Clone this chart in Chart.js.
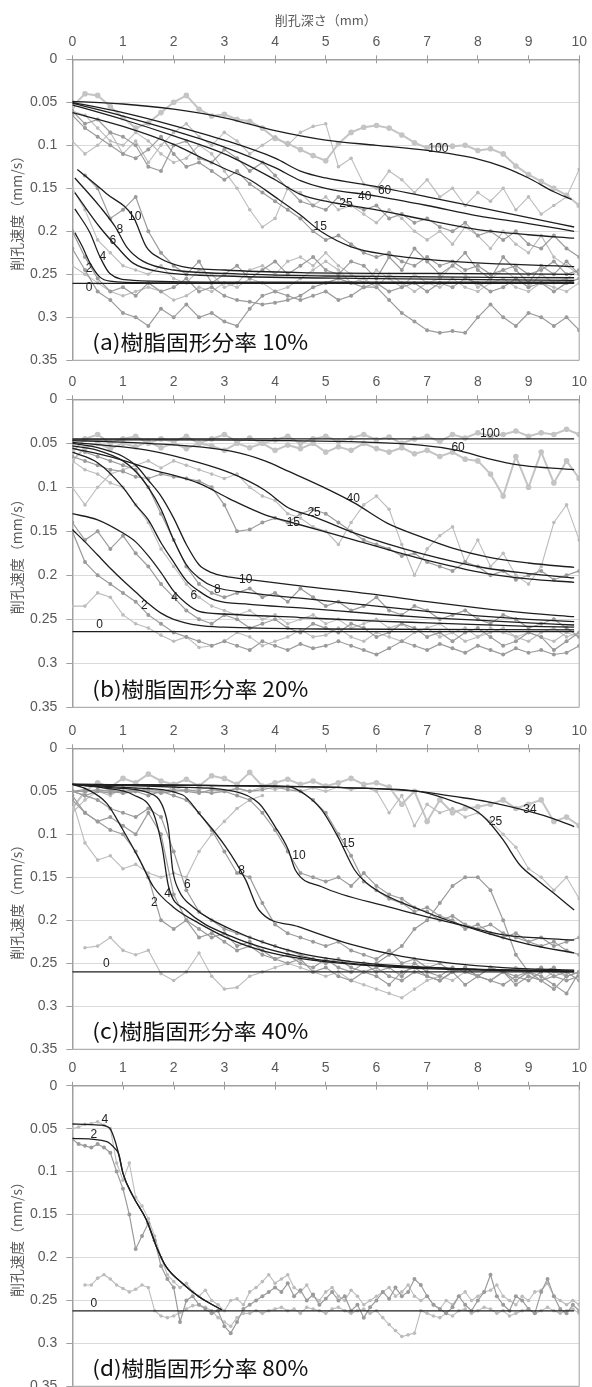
<!DOCTYPE html>
<html lang="ja">
<head>
<meta charset="utf-8">
<title>削孔速度と削孔深さ</title>
<script src="https://cdn.jsdelivr.net/npm/chart.js@4.4.1/dist/chart.umd.min.js"></script>
<style>
  html, body { margin: 0; padding: 0; background: #fff; overflow: hidden; }
  #wrap { position: relative; width: 592px; height: 1387px; overflow: hidden; }
  #wrap canvas { position: absolute; left: 0; }
</style>
</head>
<body>
<div id="wrap">
  <canvas id="chartA" width="592" height="379" style="top:0px"></canvas>
  <canvas id="chartB" width="592" height="354" style="top:372px"></canvas>
  <canvas id="chartC" width="592" height="351" style="top:717px"></canvas>
  <canvas id="chartD" width="592" height="348" style="top:1057px"></canvas>
</div>
<script>
// ---- data ----
const xTickLabels = ['0','1','2','3','4','5','6','7','8','9','10'];
const yTickLabels = ['0','0.05','0.1','0.15','0.2','0.25','0.3','0.35'];
const xTitle = '削孔深さ（mm）';
const yTitle = '削孔速度（mm/s）';
const captions = ['(a)樹脂固形分率 10%', '(b)樹脂固形分率 20%', '(c)樹脂固形分率 40%', '(d)樹脂固形分率 80%'];

const depthMm = [0,0.25,0.5,0.75,1,1.25,1.5,1.75,2,2.25,2.5,2.75,3,3.25,3.5,3.75,4,4.25,4.5,4.75,5,5.25,5.5,5.75,6,6.25,6.5,6.75,7,7.25,7.5,7.75,8,8.25,8.5,8.75,9,9.25,9.5,9.75,10];
const depthMmD = [0,0.125,0.25,0.375,0.5,0.625,0.75,0.875,1,1.125,1.25,1.375,1.5,1.625,1.75,1.875,2,2.125,2.25,2.375,2.5,2.625,2.75,2.875,3,3.125,3.25,3.375,3.5,3.625,3.75,3.875,4,4.125,4.25,4.375,4.5,4.625,4.75,4.875,5,5.125,5.25,5.375,5.5,5.625,5.75,5.875,6,6.125,6.25,6.375,6.5,6.625,6.75,6.875,7,7.125,7.25,7.375,7.5,7.625,7.75,7.875,8,8.125,8.25,8.375,8.5,8.625,8.75,8.875,9,9.125,9.25,9.375,9.5,9.625,9.75,9.875,10];

// (a) measured
const measA100 = [0.055,0.040,0.042,0.055, 0.068,0.080,0.074,0.062, 0.050,0.042,0.058,0.066, 0.064,0.070,0.072,0.080, 0.092,0.098,0.105,0.112, 0.118,0.098,0.085,0.079, 0.077,0.080,0.088,0.097, 0.103,0.100,0.101,0.100, 0.106,0.104,0.110,0.124, 0.134,0.142,0.150,0.158, 0.170];
const measA60 = [0.095,0.110,0.100,0.085, 0.110,0.095,0.120,0.100, 0.085,0.075,0.090,0.100, 0.085,0.095,0.110,0.100, 0.090,0.100,0.085,0.078, 0.075,0.125,0.115,0.145, 0.150,0.130,0.140,0.155, 0.140,0.160,0.150,0.170, 0.155,0.165,0.150,0.175, 0.160,0.180,0.170,0.160, 0.128];
const measA40 = [0.060,0.075,0.070,0.085, 0.090,0.100,0.125,0.130, 0.100,0.095,0.115,0.120, 0.105,0.115,0.130,0.120, 0.135,0.150,0.165,0.170, 0.175,0.160,0.170,0.175, 0.170,0.185,0.180,0.190, 0.185,0.195,0.200,0.190, 0.205,0.200,0.210,0.200, 0.215,0.220,0.205,0.220, 0.230];
const measA25 = [0.060,0.065,0.080,0.095, 0.100,0.085,0.095,0.110, 0.120,0.115,0.100,0.110, 0.130,0.150,0.175,0.195, 0.185,0.150,0.155,0.170, 0.160,0.175,0.170,0.180, 0.190,0.175,0.185,0.200, 0.210,0.200,0.215,0.195, 0.205,0.220,0.200,0.215, 0.225,0.205,0.230,0.240, 0.250];
const measA15 = [0.065,0.080,0.090,0.100, 0.110,0.115,0.105,0.090, 0.110,0.125,0.120,0.130, 0.140,0.130,0.145,0.155, 0.165,0.175,0.185,0.200, 0.210,0.205,0.215,0.225, 0.230,0.225,0.235,0.240, 0.230,0.240,0.235,0.245, 0.240,0.250,0.245,0.240, 0.250,0.245,0.235,0.250, 0.245];
const measA10 = [null,0.135,0.150,0.185, 0.175,0.160,0.200,0.225, 0.240,0.250,0.235,0.260, 0.250,0.240,0.255,0.245, 0.235,0.250,0.240,0.230, 0.245,0.250,0.235,0.240, 0.255,0.230,0.245,0.220, 0.235,0.250,0.240,0.225, 0.245,0.255,0.230,0.245, 0.260,0.240,0.250,0.235, 0.250];
const measA8 = [0.150,0.175,0.210,0.225, 0.240,0.245,0.250,0.240, 0.255,0.260,0.245,0.250, 0.265,0.260,0.245,0.240, 0.250,0.235,0.230,0.240, 0.225,0.240,0.250,0.260, 0.245,0.255,0.265,0.250, 0.260,0.255,0.240,0.250, 0.265,0.255,0.245,0.255, 0.265,0.250,0.260,0.255, 0.245];
const measA4 = [0.200,0.230,0.255,0.270, 0.265,0.275,0.260,0.270, 0.265,0.255,0.270,0.265, 0.275,0.280,0.282,0.285, 0.283,0.280,0.275,0.265, 0.260,0.255,0.260,0.265, 0.260,0.270,0.265,0.260, 0.270,0.260,0.265,0.255, 0.260,0.270,0.265,0.255, 0.265,0.260,0.270,0.260, 0.255];
const measA2 = [0.220,0.245,0.270,0.280, 0.295,0.300,0.310,0.290, 0.300,0.285,0.300,0.295, 0.305,0.310,0.290,0.275, 0.270,0.275,0.280,0.275, 0.270,0.280,0.275,0.265, 0.265,0.280,0.295,0.305, 0.315,0.318,0.316,0.318, 0.300,0.285,0.300,0.310, 0.295,0.300,0.310,0.300, 0.315];
const measA0 = [0.240,0.250,0.260,0.270, 0.275,0.270,0.265,0.270, 0.280,0.275,0.265,0.270, 0.260,0.265,0.255,0.260, 0.270,0.265,0.255,0.245, 0.235,0.245,0.260,0.255, 0.265,0.250,0.260,0.270, 0.260,0.265,0.255,0.265, 0.270,0.260,0.255,0.265, 0.270,0.260,0.265,0.270, 0.260];

// (b) measured
const measB100 = [0.060,0.045,0.040,0.050, 0.045,0.042,0.050,0.045, 0.048,0.042,0.050,0.045, 0.040,0.048,0.044,0.050, 0.046,0.042,0.050,0.045, 0.042,0.048,0.044,0.040, 0.046,0.043,0.050,0.045, 0.042,0.048,0.040,0.044, 0.038,0.042,0.040,0.036, 0.042,0.038,0.040,0.034, 0.040];
const measB60 = [0.070,0.055,0.050,0.056, 0.050,0.054,0.048,0.055, 0.050,0.056,0.050,0.053, 0.058,0.050,0.055,0.050, 0.058,0.052,0.056,0.050, 0.060,0.054,0.058,0.050, 0.056,0.060,0.055,0.062, 0.058,0.065,0.060,0.068, 0.070,0.085,0.110,0.065, 0.100,0.060,0.095,0.070, 0.090];
const measB40 = [0.100,0.120,0.100,0.085, 0.080,0.075,0.070,0.078, 0.070,0.075,0.080,0.085, 0.090,0.085,0.100,0.110, 0.115,0.130,0.135,0.145, 0.150,0.165,0.140,0.120, 0.110,0.125,0.165,0.200, 0.170,0.155,0.145,0.185, 0.160,0.190,0.175,0.200, 0.210,0.190,0.140,0.120, 0.160];
const measB25 = [0.065,0.070,0.075,0.080, 0.082,0.088,0.090,0.085, 0.088,0.090,0.093,0.100, 0.120,0.150,0.148,0.140, 0.135,0.140,0.130,0.125, 0.130,0.140,0.150,0.160, 0.165,0.170,0.178,0.175, 0.185,0.190,0.195,0.185, 0.190,0.200,0.195,0.205, 0.200,0.195,0.205,0.200, 0.195];
const measB10 = [0.055,0.060,0.065,0.070, 0.075,0.080,0.100,0.130, 0.160,0.190,0.210,0.220, 0.225,0.220,0.215,0.225, 0.220,0.230,0.215,0.225, 0.235,0.230,0.240,0.235, 0.225,0.240,0.245,0.235, 0.240,0.250,0.245,0.240, 0.250,0.255,0.245,0.250, 0.260,0.255,0.250,0.260, 0.270];
const measB6 = [0.070,0.080,0.085,0.095, 0.100,0.120,0.140,0.170, 0.190,0.210,0.225,0.235, 0.240,0.245,0.240,0.250, 0.245,0.255,0.250,0.245, 0.255,0.250,0.260,0.255, 0.250,0.260,0.255,0.265, 0.260,0.255,0.265,0.260, 0.270,0.265,0.260,0.270, 0.265,0.270,0.275,0.265, 0.270];
const measB4 = [0.140,0.160,0.150,0.170, 0.155,0.175,0.190,0.210, 0.225,0.240,0.250,0.255, 0.245,0.250,0.260,0.255, 0.250,0.260,0.265,0.255, 0.260,0.265,0.255,0.260, 0.270,0.265,0.255,0.260, 0.270,0.265,0.275,0.265, 0.260,0.270,0.280,0.275, 0.265,0.270,0.285,0.275, 0.265];
const measB2 = [0.150,0.185,0.200,0.210, 0.220,0.230,0.245,0.255, 0.265,0.270,0.275,0.280, 0.275,0.280,0.285,0.275, 0.280,0.285,0.278,0.283, 0.280,0.275,0.280,0.285, 0.290,0.283,0.275,0.280, 0.285,0.278,0.283,0.288, 0.280,0.285,0.290,0.283, 0.288,0.285,0.290,0.288, 0.280];
const measB0 = [0.235,0.235,0.220,0.225, 0.245,0.255,0.260,0.268, 0.275,0.270,0.282,0.280, 0.275,0.265,0.270,0.280, 0.275,0.270,0.262,0.270, 0.268,0.260,0.270,0.275, 0.265,0.270,0.275,0.265, 0.260,0.270,0.265,0.275, 0.270,0.260,0.265,0.270, 0.275,0.265,0.260,0.270, 0.265];

// (c) measured
const measC34 = [0.070,0.050,0.040,0.045, 0.035,0.040,0.030,0.038, 0.042,0.036,0.044,0.032, 0.035,0.042,0.028,0.044, 0.040,0.036,0.042,0.038, 0.044,0.040,0.035,0.042, 0.040,0.045,0.065,0.050, 0.085,0.060,0.075,0.070, 0.068,0.065,0.060,0.070, 0.065,0.060,0.085,0.080, 0.090];
const measC25 = [0.075,0.060,0.050,0.055, 0.045,0.050,0.048,0.052, 0.045,0.050,0.048,0.045, 0.050,0.046,0.050,0.045, 0.048,0.044,0.050,0.046, 0.050,0.045,0.048,0.045, 0.050,0.075,0.055,0.090, 0.065,0.075,0.070,0.080, 0.075,0.085,0.100,0.115, 0.140,0.150,0.165,0.150, 0.175];
const measC15 = [0.050,0.055,0.050,0.048, 0.052,0.050,0.047,0.050, 0.048,0.050,0.052,0.048, 0.050,0.047,0.050,0.048, 0.045,0.048,0.050,0.060, 0.075,0.100,0.125,0.155, 0.165,0.175,0.180,0.190, 0.185,0.195,0.200,0.210, 0.205,0.215,0.220,0.215, 0.225,0.230,0.225,0.235, 0.240];
const measC10 = [0.050,0.048,0.050,0.052, 0.050,0.048,0.050,0.052, 0.050,0.048,0.050,0.052, 0.050,0.055,0.060,0.075, 0.095,0.120,0.145,0.150, 0.155,0.150,0.160,0.145, 0.160,0.170,0.175,0.185, 0.190,0.200,0.195,0.205, 0.210,0.205,0.215,0.220, 0.225,0.220,0.230,0.225, 0.220];
const measC8 = [0.050,0.050,0.048,0.050, 0.052,0.050,0.055,0.050, 0.055,0.060,0.075,0.095, 0.120,0.145,0.150,0.180, 0.205,0.215,0.220,0.225, 0.230,0.225,0.235,0.240, 0.245,0.235,0.250,0.245, 0.255,0.250,0.260,0.255, 0.265,0.270,0.260,0.275, 0.265,0.270,0.280,0.265, 0.260];
const measC6 = [0.050,0.055,0.060,0.070, 0.075,0.080,0.070,0.080, 0.120,0.165,0.190,0.200, 0.210,0.215,0.220,0.225, 0.230,0.235,0.240,0.245, 0.250,0.245,0.255,0.260, 0.255,0.265,0.270,0.260, 0.265,0.270,0.260,0.255, 0.265,0.270,0.275,0.265, 0.260,0.270,0.265,0.270, 0.265];
const measC4 = [0.055,0.075,0.085,0.080, 0.090,0.100,0.075,0.100, 0.170,0.200,0.210,0.220, 0.215,0.230,0.225,0.235, 0.245,0.240,0.250,0.255, 0.245,0.255,0.260,0.250, 0.260,0.255,0.265,0.250, 0.260,0.265,0.255,0.260, 0.265,0.255,0.260,0.270, 0.260,0.255,0.265,0.260, 0.270];
const measC2 = [0.060,0.075,0.085,0.095, 0.100,0.120,0.150,0.200, 0.210,0.200,0.220,0.215, 0.225,0.235,0.230,0.240, 0.245,0.250,0.245,0.260, 0.255,0.265,0.270,0.260, 0.265,0.275,0.260,0.255, 0.265,0.270,0.260,0.275, 0.265,0.255,0.260,0.265, 0.270,0.260,0.255,0.265, 0.260];
const measCEarly = [0.060,0.110,0.130,0.125, 0.140,0.135,0.145,0.150, 0.145,0.150,0.120,0.100, 0.085,0.070,0.060,0.055, null,null,null,null, null,null,null,null, null,null,null,null, null,null,null,null, null,null,null,null, null,null,null,null, null];
const measC0 = [null,0.232,0.230,0.220, 0.235,0.240,0.235,0.262, 0.270,0.260,0.238,0.265, 0.280,0.278,0.265,0.260, 0.255,0.250,0.255,0.260, 0.265,0.260,0.270,0.275, 0.280,0.285,0.290,0.280, 0.270,0.265,0.270,0.260, 0.265,0.270,0.260,0.255, 0.265,0.270,0.260,0.265, 0.260];
const measCWild = [null,null,null,null, null,null,null,null, null,null,null,null, null,null,null,null, null,null,null,null, null,null,null,null, 0.250,0.240,0.230,0.210, 0.200,0.180,0.160,0.150, 0.150,0.165,0.200,0.240, 0.260,0.265,0.275,0.285, 0.260];

// (d) measured, finer step
const measD4 = [0.050,0.048,0.045,0.044,0.042,0.046,0.050,0.090, 0.110,0.090,0.130,0.140,0.155,0.175,0.200,0.220, 0.228,0.235,0.230,0.240,0.245,0.238,0.250,0.255, 0.262,0.250,0.248,0.255,0.240,0.235,0.228,0.220, 0.230,0.225,0.220,0.235,0.240,0.232,0.245,0.250, 0.240,0.235,0.245,0.250,0.238,0.245,0.255,0.250, 0.245,0.240,0.235,0.245,0.240,0.232,0.245,0.250, 0.245,0.255,0.260,0.250,0.255,0.245,0.240,0.250, 0.245,0.240,0.238,0.232,0.245,0.250,0.255,0.245, 0.250,0.240,0.238,0.230,0.245,0.250,0.255,0.250, 0.255];
const measD2 = [0.062,0.068,0.070,0.072,0.068,0.072,0.078,0.100, 0.120,0.150,0.190,0.175,0.160,0.180,0.210,0.225, 0.235,0.275,0.250,0.245,0.255,0.260,0.265,0.262, 0.280,0.288,0.275,0.260,0.255,0.250,0.245,0.240, 0.235,0.240,0.230,0.245,0.238,0.250,0.243,0.255, 0.248,0.240,0.250,0.245,0.262,0.255,0.270,0.258, 0.250,0.240,0.248,0.235,0.245,0.240,0.225,0.232, 0.245,0.255,0.260,0.265,0.258,0.245,0.255,0.262, 0.250,0.240,0.220,0.245,0.255,0.262,0.245,0.250, 0.260,0.265,0.240,0.225,0.245,0.260,0.265,0.255, 0.262];
const measD0 = [null,null,0.232,0.232,0.224,0.220,0.225,0.232, 0.236,0.240,0.237,0.232,0.235,0.262,0.268,0.270, 0.268,0.264,0.260,0.256,0.255,0.258,0.262,0.270, 0.275,0.280,0.270,0.265,0.265,0.262,0.265,0.262, 0.260,0.258,0.262,0.260,0.265,0.258,0.260,0.262, 0.265,0.260,0.258,0.262,0.265,0.262,0.260,0.265, 0.262,0.270,0.278,0.285,0.292,0.290,0.288,0.262, 0.265,0.268,0.270,0.265,0.268,0.262,0.260,0.265, 0.262,0.258,0.260,0.265,0.262,0.268,0.265,0.262, 0.260,0.265,0.262,0.258,0.262,0.265,0.262,0.260, 0.265];

// fitted curves [depth, speed]
const fitA100 = [[0,0.049],[1,0.052],[2,0.058],[3,0.068],[4,0.083],[5,0.094],[6,0.100],[7,0.106],[8,0.116],[8.5,0.125],[9,0.138],[9.5,0.154],[9.85,0.163]];
const fitA60 = [[0,0.050],[1,0.062],[2,0.077],[3,0.094],[4,0.115],[4.5,0.130],[5,0.138],[6,0.148],[7,0.160],[8,0.172],[9,0.184],[9.9,0.195]];
const fitA40 = [[0,0.051],[1,0.066],[2,0.083],[3,0.102],[4,0.126],[4.5,0.141],[5,0.150],[6,0.159],[7,0.170],[8,0.182],[9,0.191],[9.9,0.200]];
const fitA25 = [[0,0.053],[1,0.070],[2,0.089],[3,0.110],[4,0.140],[4.5,0.157],[5,0.165],[6,0.175],[7,0.187],[8,0.198],[9,0.204],[9.9,0.208]];
const fitA15 = [[0,0.062],[1,0.078],[2,0.099],[2.5,0.113],[3,0.127],[3.5,0.140],[4,0.160],[4.5,0.181],[4.9,0.200],[5.5,0.218],[6.2,0.227],[7.5,0.235],[9.9,0.241]];
const fitA10 = [[0.1,0.128],[0.67,0.156],[1.2,0.183],[1.46,0.218],[1.72,0.231],[2.17,0.241],[3,0.245],[4.5,0.248],[7,0.249],[9.9,0.250]];
const fitA8 = [[0.05,0.138],[0.54,0.171],[0.85,0.195],[1.07,0.218],[1.4,0.235],[2,0.245],[3,0.249],[5,0.252],[9.9,0.254]];
const fitA6 = [[0.05,0.155],[0.54,0.195],[0.88,0.218],[1.2,0.237],[1.72,0.247],[3,0.252],[6,0.255],[9.9,0.257]];
const fitA4 = [[0.05,0.174],[0.35,0.202],[0.54,0.229],[0.74,0.249],[1.2,0.257],[3,0.259],[9.9,0.259]];
const fitA2 = [[0.05,0.2016],[0.2,0.218],[0.35,0.237],[0.54,0.253],[0.74,0.258],[1.5,0.260],[9.9,0.260]];
const fitA0 = [[0,0.2605],[9.9,0.2605]];

const fitB100 = [[0,0.045],[9.9,0.045]];
const fitB60 = [[0,0.046],[2,0.046],[4.27,0.047],[6.87,0.052],[7.6,0.058],[8.18,0.067],[8.83,0.0747],[9.4,0.078],[9.9,0.080]];
const fitB40 = [[0,0.047],[1.5,0.050],[3.13,0.059],[3.8,0.070],[4.27,0.082],[4.92,0.099],[5.57,0.118],[6.22,0.141],[6.87,0.156],[7.5,0.169],[8.18,0.179],[9,0.186],[9.9,0.191]];
const fitB25 = [[0,0.049],[1.5,0.058],[2.5,0.072],[3.13,0.084],[3.79,0.103],[4.27,0.1235],[4.75,0.133],[5.57,0.152],[6.87,0.175],[8.18,0.192],[9,0.198],[9.9,0.203]];
const fitB15 = [[0,0.0557],[0.8,0.066],[1.52,0.079],[2.5,0.0955],[3.13,0.114],[3.79,0.131],[4.33,0.140],[5.57,0.160],[6.87,0.181],[8.18,0.198],[9,0.204],[9.9,0.208]];
const fitB10 = [[0,0.050],[0.5,0.055],[1,0.065],[1.25,0.075],[1.5,0.092],[1.75,0.110],[2,0.135],[2.25,0.165],[2.5,0.188],[2.75,0.197],[3,0.201],[3.5,0.205],[4.5,0.212],[6,0.222],[7,0.230],[8,0.237],[9,0.243],[9.9,0.247]];
const fitB8 = [[0,0.053],[0.5,0.058],[1,0.070],[1.25,0.082],[1.5,0.100],[1.75,0.125],[2,0.160],[2.25,0.188],[2.5,0.203],[2.8,0.213],[3.5,0.220],[4.5,0.226],[6,0.235],[7,0.241],[8,0.246],[9,0.250],[9.9,0.2527]];
const fitB6 = [[0,0.060],[0.5,0.072],[1,0.100],[1.25,0.120],[1.5,0.137],[1.75,0.163],[2,0.185],[2.25,0.206],[2.5,0.218],[2.8,0.228],[3.5,0.233],[4.5,0.237],[6,0.244],[7,0.248],[8,0.251],[9,0.254],[9.9,0.2565]];
const fitB4 = [[0,0.130],[0.5,0.137],[1,0.152],[1.25,0.162],[1.5,0.178],[1.75,0.197],[2,0.218],[2.25,0.232],[2.5,0.241],[3,0.244],[4.5,0.248],[6,0.252],[7,0.254],[8,0.256],[9,0.258],[9.9,0.259]];
const fitB2 = [[0,0.148],[0.25,0.162],[0.5,0.177],[0.75,0.192],[1,0.206],[1.25,0.219],[1.5,0.232],[1.75,0.243],[2,0.250],[2.5,0.257],[3,0.259],[5,0.261],[9.9,0.262]];
const fitB0 = [[0,0.264],[9.9,0.264]];

const fitC34 = [[0,0.042],[4,0.044],[6,0.047],[6.87,0.0504],[7.53,0.056],[8.18,0.062],[9.03,0.0737],[9.5,0.082],[9.9,0.091]];
const fitC25 = [[0,0.042],[4,0.044],[6,0.047],[6.87,0.0504],[7.53,0.062],[8,0.074],[8.18,0.0834],[8.5,0.1066],[8.83,0.1357],[9.17,0.153],[9.5,0.1686],[9.9,0.188]];
const fitC15 = [[0,0.042],[2.5,0.043],[4.27,0.0447],[4.6,0.054],[4.92,0.0717],[5.24,0.103],[5.57,0.1415],[5.9,0.161],[6.87,0.188],[8.18,0.215],[9,0.228],[9.9,0.238]];
const fitC10 = [[0,0.042],[2,0.045],[3.2,0.050],[3.68,0.064],[4,0.091],[4.26,0.118],[4.4,0.1415],[4.92,0.161],[6.22,0.184],[7.53,0.2035],[8.5,0.217],[9.3,0.221],[9.9,0.223]];
const fitC8 = [[0,0.042],[1.2,0.046],[2.17,0.054],[2.5,0.0756],[3.02,0.114],[3.42,0.153],[3.68,0.188],[4.46,0.2074],[5.5,0.228],[6.5,0.242],[7.5,0.250],[8.5,0.255],[9.9,0.258]];
const fitC6 = [[0,0.042],[0.8,0.046],[1.52,0.052],[1.8,0.070],[1.9,0.095],[1.98,0.1415],[2.1,0.165],[2.37,0.184],[3.15,0.211],[4.46,0.238],[5.5,0.248],[6.5,0.253],[8,0.257],[9.9,0.259]];
const fitC4 = [[0,0.042],[0.6,0.046],[1.2,0.054],[1.6,0.0756],[1.77,0.114],[1.9,0.161],[2.24,0.188],[3.15,0.219],[4.46,0.242],[5.5,0.250],[6.5,0.254],[8,0.257],[9.9,0.259]];
const fitC2 = [[0,0.042],[0.3,0.048],[0.68,0.064],[1,0.095],[1.33,0.130],[1.6,0.161],[2,0.185],[2.5,0.2035],[3.15,0.223],[3.8,0.236],[4.46,0.244],[5.5,0.251],[6.5,0.255],[8,0.258],[9.9,0.260]];
const fitC0 = [[0,0.260],[9.9,0.260]];

const fitD4 = [[0,0.0446],[0.54,0.0458],[0.74,0.0496],[0.82,0.060],[0.9,0.076],[1,0.102],[1.2,0.129],[1.46,0.156],[1.66,0.1874],[1.85,0.2107],[2.17,0.230],[2.5,0.2457],[2.95,0.261]];
const fitD2 = [[0,0.0613],[0.68,0.065],[0.84,0.073],[0.92,0.080],[1,0.102],[1.2,0.129],[1.46,0.156],[1.66,0.1874],[1.85,0.2107],[2.17,0.230],[2.5,0.2457],[2.95,0.261]];
const fitD0 = [[0,0.262],[9.9,0.262]];

// curve tags [text, depth, speed]
const tagsA = [['100',7.22,0.104],['60',6.16,0.153],['40',5.77,0.160],['25',5.4,0.168],['15',4.89,0.195],['10',1.23,0.183],['8',0.94,0.198],['6',0.8,0.211],['4',0.6,0.229],['2',0.33,0.244],['0',0.33,0.266]];
const tagsB = [['100',8.24,0.0386],['60',7.61,0.0545],['40',5.54,0.1125],['25',4.77,0.1288],['15',4.36,0.140],['10',3.42,0.2045],['8',2.86,0.216],['6',2.4,0.2235],['4',2.02,0.226],['2',1.42,0.235],['0',0.54,0.2565]];
const tagsC = [['2',1.62,0.1795],['4',1.88,0.1686],['6',2.27,0.159],['8',3.34,0.1423],['10',4.47,0.1252],['15',5.44,0.1113],['25',8.35,0.0853],['34',9.03,0.071],['0',0.67,0.2508]];
const tagsD = [['4',0.64,0.039],['2',0.425,0.0574],['0',0.425,0.254]];

// ---- styles ----
const GRAY = {
  band:  { color: '#c4c4c4', width: 2,   radius: 2.8, order: 4 },
  light: { color: '#bcbcbc', width: 1.1, radius: 1.8, order: 3 },
  mid:   { color: '#9b9b9b', width: 1.2, radius: 2.0, order: 2 }
};
const TICK_FONT = { family: '"Liberation Sans", Arial, sans-serif', size: 14 };
const TEXT_GRAY = '#595959';

function measured(xs, ys, kind) {
  const st = GRAY[kind];
  return {
    data: xs.map((x, i) => ({ x: x, y: ys[i] })),
    borderColor: st.color,
    backgroundColor: st.color,
    borderWidth: st.width,
    pointRadius: st.radius,
    pointBorderWidth: 0,
    pointBackgroundColor: st.color,
    order: st.order
  };
}

function fitted(pts) {
  return {
    data: pts.map(p => ({ x: p[0], y: p[1] })),
    borderColor: '#1e1e1e',
    borderWidth: 1.3,
    pointRadius: 0,
    cubicInterpolationMode: 'monotone',
    order: 0
  };
}

// frame, inner tick marks, curve tags and panel caption
const panelDecor = {
  id: 'panelDecor',
  afterDatasetsDraw(chart, args, opts) {
    const { ctx, chartArea: a, scales: { x, y } } = chart;
    ctx.save();
    ctx.strokeStyle = '#b0b0b0';
    ctx.lineWidth = 1.2;
    ctx.beginPath();
    ctx.moveTo(a.right, a.top); ctx.lineTo(a.right, a.bottom);
    ctx.moveTo(a.left, a.bottom); ctx.lineTo(a.right, a.bottom);
    ctx.stroke();

    ctx.strokeStyle = '#9a9a9a';
    ctx.lineWidth = 1;
    ctx.beginPath();
    x.ticks.forEach(t => {
      const px = Math.round(x.getPixelForValue(t.value)) + 0.5;
      ctx.moveTo(px, a.top); ctx.lineTo(px, a.top + 4);
    });
    ctx.stroke();

    ctx.fillStyle = '#222';
    ctx.font = '12px "Liberation Sans", Arial, sans-serif';
    ctx.textAlign = 'center';
    ctx.textBaseline = 'middle';
    (opts.tags || []).forEach(([txt, lx, ly]) => {
      ctx.fillText(txt, x.getPixelForValue(lx), y.getPixelForValue(ly));
    });

    if (opts.caption) {
      ctx.font = '21px "Noto Sans CJK JP", sans-serif';
      ctx.fillStyle = '#111';
      ctx.textAlign = 'left';
      const w = ctx.measureText(opts.caption).width;
      ctx.translate(a.left + 20, a.bottom - 18);
      ctx.scale(216 / w, 1);
      ctx.fillText(opts.caption, 0, 0);
    }
    ctx.restore();
  }
};

function buildPanel(canvasId, cfg) {
  const ctx = document.getElementById(canvasId).getContext('2d');
  return new Chart(ctx, {
    type: 'line',
    data: { datasets: cfg.datasets },
    plugins: [panelDecor],
    options: {
      responsive: false,
      animation: false,
      devicePixelRatio: 1,
      // bottom padding must exceed the y-scale label padding (half label + tick padding)
      layout: { padding: { left: 0, top: 0, right: 9.3, bottom: cfg.bottomPad } },
      plugins: {
        legend: { display: false },
        tooltip: { enabled: false },
        panelDecor: { tags: cfg.tags, caption: cfg.caption }
      },
      scales: {
        x: {
          type: 'linear',
          position: 'top',
          min: 0, max: 10,
          afterFit: (scale) => { scale.height = cfg.axisH; },
          ticks: {
            stepSize: 1,
            padding: 5,
            color: TEXT_GRAY,
            font: TICK_FONT,
            maxRotation: 0,
            callback: (v) => xTickLabels[Math.round(v)]
          },
          grid: { drawOnChartArea: false, tickLength: 4, tickColor: '#9a9a9a' },
          border: { color: '#a0a0a0', width: 1.5 },
          title: {
            display: cfg.showXTitle,
            text: xTitle,
            color: TEXT_GRAY,
            font: { family: '"Noto Sans CJK JP", sans-serif', size: 13, lineHeight: 1.2 },
            padding: { top: 12.2, bottom: 0 }
          }
        },
        y: {
          type: 'linear',
          reverse: true,
          min: 0, max: 0.35,
          afterFit: (scale) => { scale.width = 72.3; },
          ticks: {
            stepSize: 0.05,
            padding: 9,
            color: TEXT_GRAY,
            font: TICK_FONT,
            callback: (v) => yTickLabels[Math.round(v / 0.05)]
          },
          grid: { color: '#dadada', lineWidth: 1, tickLength: 6, tickColor: '#a0a0a0' },
          border: { color: '#a0a0a0', width: 1.5 },
          title: {
            display: true,
            text: yTitle,
            color: TEXT_GRAY,
            font: { family: '"Noto Sans CJK JP", sans-serif', size: 14, lineHeight: 1.2 },
            padding: { top: 8, bottom: 0 }
          }
        }
      }
    }
  });
}

buildPanel('chartA', {
  axisH: 59.3, bottomPad: 18.7, showXTitle: true, caption: captions[0], tags: tagsA,
  datasets: [
    fitted(fitA100), fitted(fitA60), fitted(fitA40), fitted(fitA25), fitted(fitA15),
    fitted(fitA10), fitted(fitA8), fitted(fitA6), fitted(fitA4), fitted(fitA2), fitted(fitA0),
    measured(depthMm, measA100, 'band'), measured(depthMm, measA60, 'light'),
    measured(depthMm, measA40, 'mid'), measured(depthMm, measA25, 'light'),
    measured(depthMm, measA15, 'mid'), measured(depthMm, measA10, 'mid'),
    measured(depthMm, measA8, 'light'), measured(depthMm, measA4, 'mid'),
    measured(depthMm, measA2, 'mid'), measured(depthMm, measA0, 'light')
  ]
});

buildPanel('chartB', {
  axisH: 27.3, bottomPad: 18.7, showXTitle: false, caption: captions[1], tags: tagsB,
  datasets: [
    fitted(fitB100), fitted(fitB60), fitted(fitB40), fitted(fitB25), fitted(fitB15),
    fitted(fitB10), fitted(fitB8), fitted(fitB6), fitted(fitB4), fitted(fitB2), fitted(fitB0),
    measured(depthMm, measB100, 'band'), measured(depthMm, measB60, 'band'),
    measured(depthMm, measB40, 'light'), measured(depthMm, measB25, 'mid'),
    measured(depthMm, measB10, 'mid'), measured(depthMm, measB6, 'light'),
    measured(depthMm, measB4, 'mid'), measured(depthMm, measB2, 'mid'),
    measured(depthMm, measB0, 'light')
  ]
});

buildPanel('chartC', {
  axisH: 31.3, bottomPad: 18.7, showXTitle: false, caption: captions[2], tags: tagsC,
  datasets: [
    fitted(fitC34), fitted(fitC25), fitted(fitC15), fitted(fitC10), fitted(fitC8),
    fitted(fitC6), fitted(fitC4), fitted(fitC2), fitted(fitC0),
    measured(depthMm, measC34, 'band'), measured(depthMm, measC25, 'light'),
    measured(depthMm, measC15, 'mid'), measured(depthMm, measC10, 'mid'),
    measured(depthMm, measC8, 'mid'), measured(depthMm, measC6, 'mid'),
    measured(depthMm, measC4, 'mid'), measured(depthMm, measC2, 'mid'),
    measured(depthMm, measCEarly, 'light'), measured(depthMm, measC0, 'light'),
    measured(depthMm, measCWild, 'mid')
  ]
});

buildPanel('chartD', {
  axisH: 28.7, bottomPad: 18.6, showXTitle: false, caption: captions[3], tags: tagsD,
  datasets: [
    fitted(fitD4), fitted(fitD2), fitted(fitD0),
    measured(depthMmD, measD4, 'light'), measured(depthMmD, measD2, 'mid'),
    measured(depthMmD, measD0, 'light')
  ]
});
</script>
</body>
</html>
